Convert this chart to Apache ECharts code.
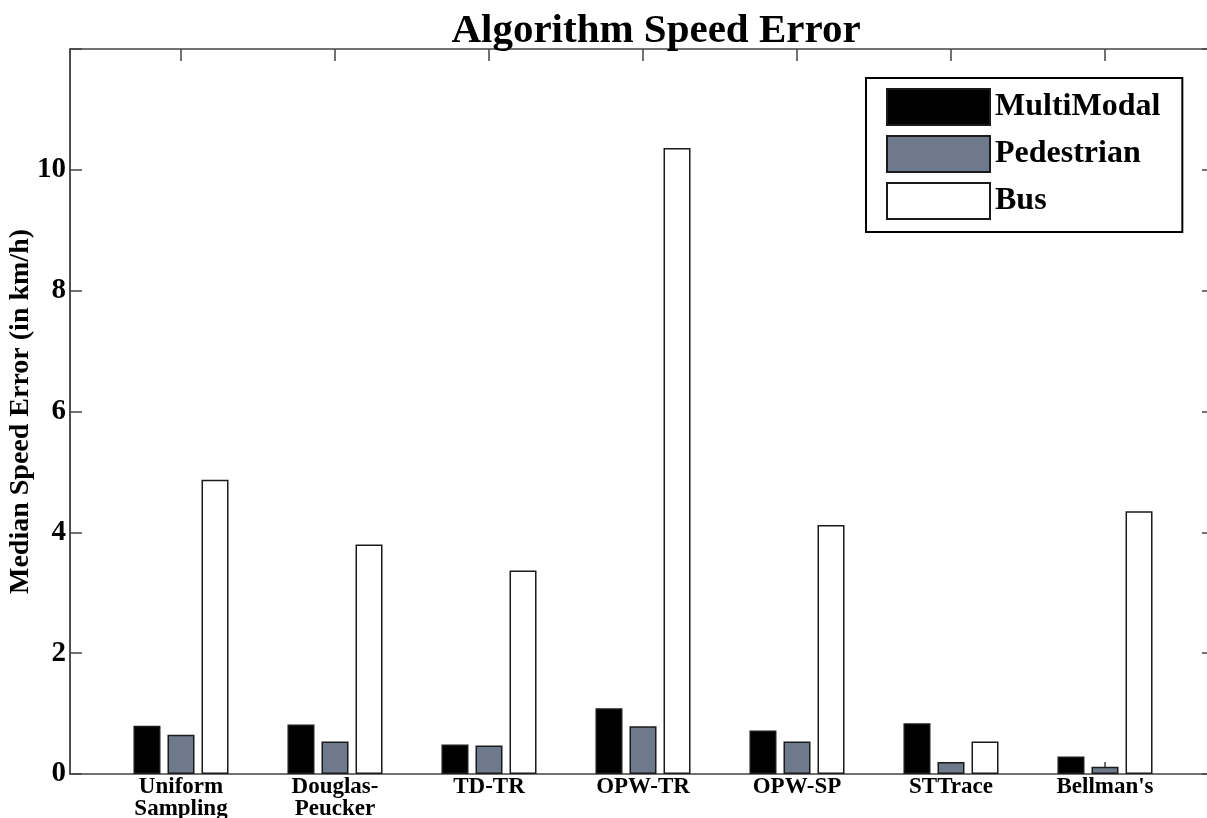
<!DOCTYPE html>
<html>
<head>
<meta charset="utf-8">
<script src="https://cdn.jsdelivr.net/npm/echarts@6/dist/echarts.min.js"></script>
<style>
html,body{margin:0;padding:0;background:#fff;}
#c{width:1207px;height:818px;}
</style>
</head>
<body>
<div id="c"></div>
<script>
const categories = ['Uniform\nSampling', 'Douglas-\nPeucker', 'TD-TR', 'OPW-TR', 'OPW-SP', 'STTrace', "Bellman's"];
const multiModal = [0.80, 0.82, 0.49, 1.09, 0.72, 0.84, 0.29];
const pedestrian = [0.65, 0.54, 0.47, 0.79, 0.54, 0.20, 0.12];
const bus = [4.87, 3.80, 3.37, 10.36, 4.12, 0.54, 4.35];
const yTicks = [0, 2, 4, 6, 8, 10];

const FONT = '"Liberation Serif", "Times New Roman", serif';
const chart = echarts.init(document.getElementById('c'));
const barStyle = (fill) => ({ color: fill, borderColor: '#1a1a1a', borderWidth: 1.5 });

chart.setOption({
  backgroundColor: '#fff',
  animation: false,
  title: {
    text: 'Algorithm Speed Error',
    left: 651, top: 6, textAlign: 'center',
    textStyle: { fontFamily: FONT, fontWeight: 'bold', fontSize: 41, color: '#000' }
  },
  legend: {
    orient: 'vertical',
    left: 866, top: 78,
    icon: 'rect',
    itemWidth: 103, itemHeight: 36, itemGap: 9,
    padding: [10, 22, 12, 20],
    borderColor: '#000', borderWidth: 2,
    backgroundColor: '#fff',
    textStyle: { fontFamily: FONT, fontWeight: 'bold', fontSize: 32, color: '#000' },
    data: ['MultiModal', 'Pedestrian', 'Bus']
  },
  grid: [
    { left: 70, top: 49, width: 1144, bottom: 44, outerBoundsMode: 'none', containLabel: false, show: true, borderColor: '#444', borderWidth: 1.5, backgroundColor: 'transparent' },
    { left: 104, top: 49, width: 1078, bottom: 44, outerBoundsMode: 'none', containLabel: false }
  ],
  xAxis: [
    { gridIndex: 0, type: 'value', min: 0, max: 1, show: false },
    {
      gridIndex: 1, type: 'category', data: categories, position: 'bottom',
      axisLine: { show: false },
      axisTick: { show: true, inside: true, length: 12, alignWithLabel: true, lineStyle: { color: '#444', width: 1.5 } },
      axisLabel: { margin: 2, fontFamily: FONT, fontWeight: 'bold', fontSize: 23, color: '#000', lineHeight: 22, interval: 0 }
    },
    {
      gridIndex: 1, type: 'category', data: categories, position: 'top',
      axisLine: { show: false },
      axisTick: { show: true, inside: true, length: 12, alignWithLabel: true, lineStyle: { color: '#444', width: 1.5 } },
      axisLabel: { show: false }
    }
  ],
  yAxis: [
    {
      gridIndex: 0, type: 'value', min: 0, max: 12, interval: 2, position: 'left',
      name: 'Median Speed Error (in km/h)', nameLocation: 'middle', nameGap: 35, nameMoveOverlap: false,
      nameTextStyle: { fontFamily: FONT, fontWeight: 'bold', fontSize: 28, color: '#000' },
      axisLine: { show: true, lineStyle: { color: '#444', width: 1.5 } },
      axisTick: { show: true, inside: true, length: 12, lineStyle: { color: '#444', width: 1.5 } },
      axisLabel: {
        margin: 4, fontFamily: FONT, fontWeight: 'bold', fontSize: 29, color: '#000',
        formatter: (v) => yTicks.indexOf(v) >= 0 ? String(v) : ''
      },
      splitLine: { show: false }
    },
    {
      gridIndex: 0, type: 'value', min: 0, max: 12, interval: 2, position: 'right',
      axisLine: { show: true, lineStyle: { color: '#444', width: 1.5 } },
      axisTick: { show: true, inside: true, length: 12, lineStyle: { color: '#444', width: 1.5 } },
      axisLabel: { show: false },
      splitLine: { show: false }
    },
    { gridIndex: 1, type: 'value', min: 0, max: 12, show: false, splitLine: { show: false } }
  ],
  series: [
    { name: 'MultiModal', type: 'bar', xAxisIndex: 1, yAxisIndex: 2, data: multiModal, barWidth: 27, barGap: '26%', itemStyle: barStyle('#000') },
    { name: 'Pedestrian', type: 'bar', xAxisIndex: 1, yAxisIndex: 2, data: pedestrian, barWidth: 27, barGap: '26%', itemStyle: barStyle('#6e7a8b') },
    { name: 'Bus', type: 'bar', xAxisIndex: 1, yAxisIndex: 2, data: bus, barWidth: 27, barGap: '26%', itemStyle: barStyle('#fff') }
  ]
});
</script>
</body>
</html>
